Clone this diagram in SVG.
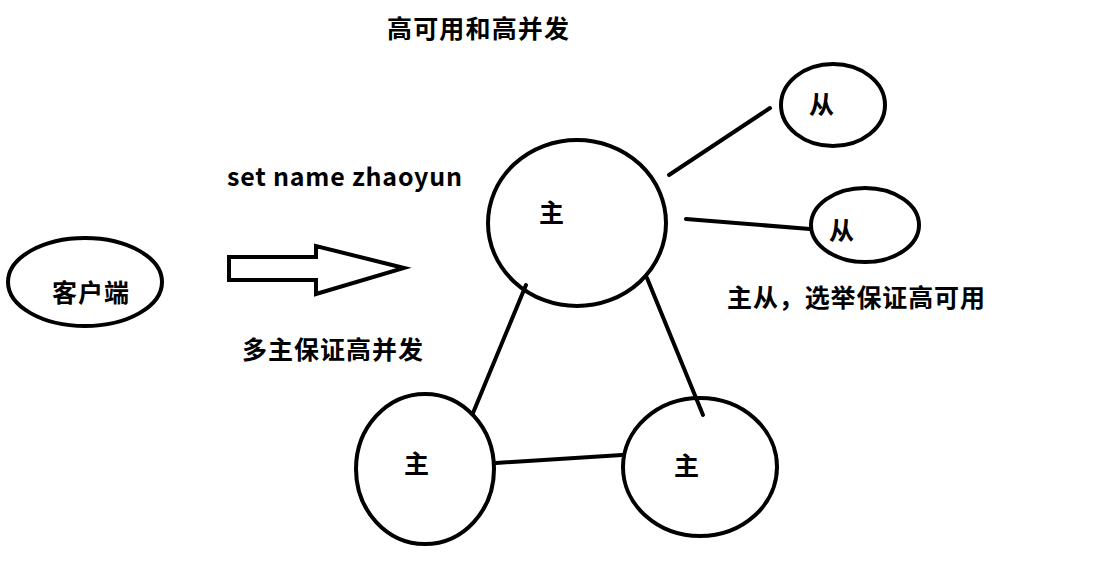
<svg xmlns="http://www.w3.org/2000/svg" width="1104" height="562" viewBox="0 0 1104 562">
<style>
.n{fill:#fff;stroke:#000;stroke-width:4}
.c line{stroke:#000;stroke-width:4;stroke-linecap:round}
text{font-family:"Noto Sans CJK SC","Noto Sans",sans-serif;font-weight:bold;fill:#000;font-size:25px}
</style>
<rect width="1104" height="562" fill="#fff"/>
<g id="client"><ellipse class="n" cx="85" cy="282" rx="77" ry="44"/><text x="52" y="302" textLength="77">客户端</text></g>
<g id="arrow"><path class="n" stroke-linejoin="miter" d="M229,257 L316,257 L316,246 L404,268 L316,294 L316,280 L229,280 Z"/></g>
<g id="master-top"><ellipse class="n" cx="577" cy="223" rx="89" ry="83"/><text x="539" y="222">主</text></g>
<g id="slave-1"><ellipse class="n" cx="833" cy="105" rx="52" ry="41"/><text x="809" y="114">从</text></g>
<g id="slave-2"><ellipse class="n" cx="865" cy="225" rx="54" ry="37"/><text x="829" y="240">从</text></g>
<g id="master-left"><ellipse class="n" cx="425" cy="469" rx="69" ry="75"/><text x="404" y="473">主</text></g>
<g id="master-right"><ellipse class="n" cx="700" cy="467" rx="77" ry="69"/><text x="674" y="475">主</text></g>
<g id="connectors" class="c">
<line x1="669" y1="175" x2="770" y2="108"/>
<line x1="686" y1="219" x2="810" y2="229"/>
<line x1="526" y1="285" x2="473" y2="413"/>
<line x1="647" y1="278" x2="703" y2="415"/>
<line x1="496" y1="463" x2="622" y2="455"/>
</g>
<g id="labels">
<text x="387" y="38" textLength="182">高可用和高并发</text>
<text x="227" y="186" textLength="235">set name zhaoyun</text>
<text x="242" y="359" textLength="181">多主保证高并发</text>
<text x="727" y="307" textLength="258">主从，选举保证高可用</text>
</g>
</svg>
